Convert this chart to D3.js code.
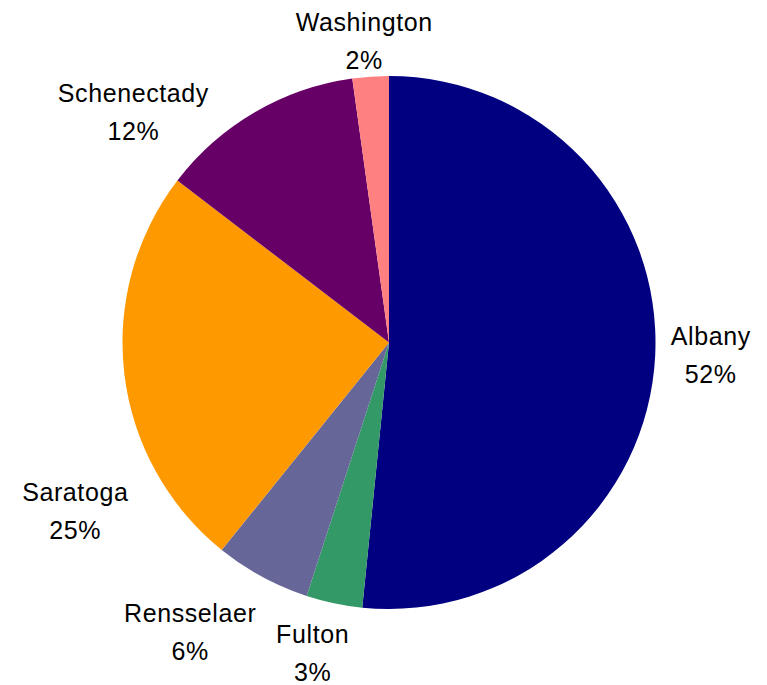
<!DOCTYPE html>
<html>
<head>
<meta charset="utf-8">
<script src="https://cdn.jsdelivr.net/npm/d3@7"></script>
<style>
  body { margin: 0; background: #fff; }
  text { font-family: Arial, "Liberation Sans", sans-serif; fill: #000; }
</style>
</head>
<body>
<div id="chart"></div>
<script>
// slices, clockwise from 12 o'clock
var counties = ["Albany", "Fulton", "Rensselaer", "Saratoga", "Schenectady", "Washington"];
var shares = [51.6, 3.4, 5.8, 24.6, 12.4, 2.2];
var colors = ["#000080", "#339966", "#666699", "#FF9900", "#660066", "#FF8080"];

// label placement (polar: degrees clockwise from top, distance from centre)
var labelAngle = [92.2, 193.8, 214.5, 241.8, 312, 355.3];
var labelDist = [322, 320, 351, 356, 344, 303];

var width = 767, height = 685;
var cx = 389, cy = 342.5, radius = 266.5;

var svg = d3.select("#chart")
  .append("svg")
    .attr("width", width)
    .attr("height", height);

var g = svg.append("g")
  .attr("transform", "translate(" + cx + "," + cy + ")");

var data = counties.map(function(c, i) {
  return {name: c, value: shares[i], color: colors[i], la: labelAngle[i], ld: labelDist[i]};
});

var pie = d3.pie()
  .value(function(d) { return d.value; })
  .sort(null);

var arc = d3.arc()
  .innerRadius(0)
  .outerRadius(radius);

var total = d3.sum(shares);

g.selectAll("path")
  .data(pie(data))
  .enter()
  .append("path")
    .attr("d", arc)
    .attr("fill", function(d) { return d.data.color; });

var labels = g.selectAll("g.label")
  .data(data)
  .enter()
  .append("g")
    .attr("class", "label")
    .attr("transform", function(d) {
      var p = d3.pointRadial(d.la * Math.PI / 180, d.ld);
      return "translate(" + p[0] + "," + p[1] + ")";
    });

labels.append("text")
  .attr("text-anchor", "middle")
  .attr("font-size", 25)
  .attr("letter-spacing", 0.6)
  .attr("y", -10)
  .text(function(d) { return d.name; });

labels.append("text")
  .attr("text-anchor", "middle")
  .attr("font-size", 25)
  .attr("letter-spacing", 0.6)
  .attr("y", 28)
  .text(function(d) { return Math.round(d.value / total * 100) + "%"; });
</script>
</body>
</html>
